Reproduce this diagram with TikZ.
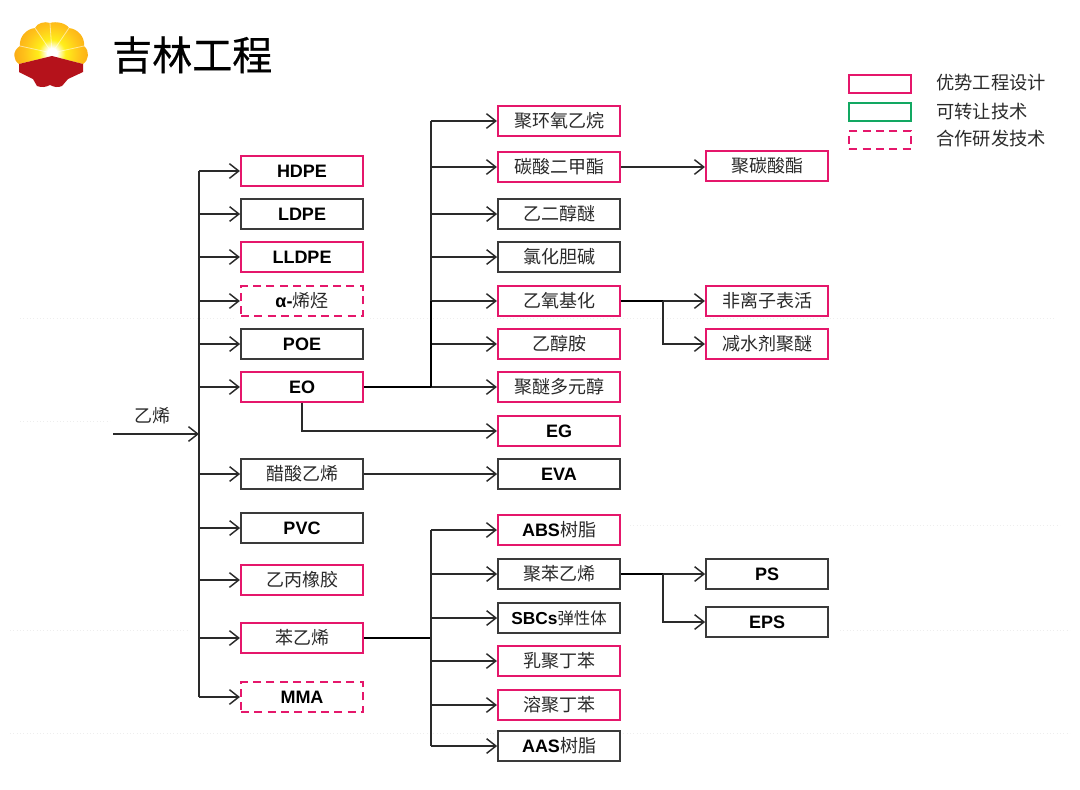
\documentclass[tikz,border=0pt]{standalone}
\usepackage{fontspec}
\setmainfont{Liberation Sans}
\newfontfamily\cjk{Noto Sans CJK SC}
\newfontfamily\cjkb[FakeBold=0.5]{Noto Sans CJK SC}
\usetikzlibrary{arrows.meta,calc}
\definecolor{pinkb}{HTML}{E5176B}
\definecolor{greenb}{HTML}{12A862}
\definecolor{inkc}{HTML}{2A2A2A}
\definecolor{boxc}{HTML}{3A3A3A}
\definecolor{faintc}{HTML}{EEEEEE}
\definecolor{logored}{HTML}{B5121B}
\definecolor{fana}{HTML}{FFEE1A}
\definecolor{fanb}{HTML}{FFC41A}
\definecolor{fanc}{HTML}{F8A014}
\definecolor{fand}{HTML}{EF8A10}
\pgfdeclareradialshading{logofan}{\pgfpoint{0bp}{0bp}}{%
  color(0bp)=(white);
  color(3bp)=(white);
  color(8bp)=(fana);
  color(16bp)=(fanb);
  color(26bp)=(fanc);
  color(40bp)=(fand);
  color(50bp)=(fand)}
\newcommand{\zh}[1]{{\cjk\mdseries\color{inkc} #1}}
\tikzset{
  box/.style={draw=boxc,line width=1.3pt,fill=white,minimum width=91.5pt,minimum height=22pt,inner sep=0pt,font=\bfseries\fontsize{13.5}{15}\selectfont,text=black},
  pinkbox/.style={box,draw=pinkb,line width=1.6pt},
  dashbox/.style={box,draw=pinkb,line width=1.6pt,dash pattern=on 6pt off 4pt},
  legpink/.style={draw=pinkb,line width=1.6pt,minimum width=46pt,minimum height=14pt,inner sep=0pt},
  leggreen/.style={draw=greenb,line width=1.6pt,minimum width=46pt,minimum height=14pt,inner sep=0pt},
  legdash/.style={draw=pinkb,line width=1.6pt,dash pattern=on 6pt off 4pt,minimum width=46pt,minimum height=14pt,inner sep=0pt},
  legtext/.style={anchor=west,inner sep=0pt,font=\cjk\fontsize{13.7}{15}\selectfont,text=inkc},
  plainline/.style={draw=inkc,line width=1.1pt},
  arr/.style={plainline,-{Straight Barb[length=7pt,width=11pt]}},
  heavy/.style={draw=black,line width=1.7pt},
  midline/.style={draw=black,line width=1.4pt},
  faintline/.style={draw=faintc,line width=0.5pt,dotted}
}
\begin{document}
\begin{tikzpicture}[x=0.75pt,y=-0.75pt]
\useasboundingbox (0,0) rectangle (1080,789);
% faint background lines
\foreach \yy/\xa/\xb in {318/20/235,318/370/1055,421/20/110,525/630/1060,630/10/190,630/840/1070,733/10/1070}
  \draw[faintline] (\xa,\yy) -- (\xb,\yy);
% logo
\begin{scope}
\path[clip] (52,56) -- (19,64) .. controls (13,60) and (12,51) .. (20,46)
  .. controls (19,37) and (26,29) .. (35,28)
  .. controls (37,23) and (45,21) .. (50,23)
  .. controls (56,21) and (66,23) .. (69,28)
  .. controls (78,29) and (85,37) .. (84,46)
  .. controls (90,51) and (89,60) .. (83,64) -- cycle;
\path[shading=logofan] (52,53) circle (42);
\foreach \ex/\ey in {20/46,35/28,50/23,69/28,84/46}
  \draw[white,line width=0.6pt,opacity=0.55] (52,53) -- (\ex,\ey);
\end{scope}
\fill[logored] (52,56) -- (19,64) -- (19,72) -- (33,79) -- (37,86) .. controls (42,88) and (46,87) .. (50,85)
  .. controls (54,87) and (58,88) .. (62,86) -- (68,79) -- (83,72) -- (83,64) -- cycle;
% title
\node[anchor=west,inner sep=0pt,font=\cjkb\fontsize{30}{34}\selectfont,text=black] (title) at (112,55) {吉林工程};
% legend
\node[legpink] (lg1) at (880,84) {};
\node[leggreen] (lg2) at (880,112) {};
\node[legdash] (lg3) at (880,140) {};
\node[legtext] (lt1) at (936,83) {优势工程设计};
\node[legtext] (lt2) at (936,112) {可转让技术};
\node[legtext] (lt3) at (936,139) {合作研发技术};
% column 1
\node[pinkbox] (hdpe) at (302,171) {HDPE};
\node[box] (ldpe) at (302,214) {LDPE};
\node[pinkbox] (lldpe) at (302,257) {LLDPE};
\node[dashbox] (alpha) at (302,301) {α-\zh{烯烃}};
\node[box] (poe) at (302,344) {POE};
\node[pinkbox] (eo) at (302,387) {EO};
\node[box] (vac) at (302,474) {\zh{醋酸乙烯}};
\node[box] (pvc) at (302,528) {PVC};
\node[pinkbox] (epr) at (302,580) {\zh{乙丙橡胶}};
\node[pinkbox] (sty) at (302,638) {\zh{苯乙烯}};
\node[dashbox] (mma) at (302,697) {MMA};
% column 2
\node[pinkbox] (peo) at (559,121) {\zh{聚环氧乙烷}};
\node[pinkbox] (dmc) at (559,167) {\zh{碳酸二甲酯}};
\node[box] (ege) at (559,214) {\zh{乙二醇醚}};
\node[box] (cho) at (559,257) {\zh{氯化胆碱}};
\node[pinkbox] (eox) at (559,301) {\zh{乙氧基化}};
\node[pinkbox] (eta) at (559,344) {\zh{乙醇胺}};
\node[pinkbox] (ppo) at (559,387) {\zh{聚醚多元醇}};
\node[pinkbox] (eg) at (559,431) {EG};
\node[box] (eva) at (559,474) {EVA};
\node[pinkbox] (abs) at (559,530) {ABS\zh{树脂}};
\node[box] (pst) at (559,574) {\zh{聚苯乙烯}};
\node[box] (sbc) at (559,618) {{\fontsize{13}{15}\selectfont SBCs}{\fontsize{12.3}{15}\selectfont\zh{弹性体}}};
\node[pinkbox] (esb) at (559,661) {\zh{乳聚丁苯}};
\node[pinkbox] (ssb) at (559,705) {\zh{溶聚丁苯}};
\node[box] (aas) at (559,746) {AAS\zh{树脂}};
% column 3
\node[pinkbox] (pc) at (767,166) {\zh{聚碳酸酯}};
\node[pinkbox] (nio) at (767,301) {\zh{非离子表活}};
\node[pinkbox] (pce) at (767,344) {\zh{减水剂聚醚}};
\node[box] (ps) at (767,574) {PS};
\node[box] (eps) at (767,622) {EPS};
% trunk
\node[anchor=south,inner sep=0pt,font=\cjk\fontsize{13.5}{15}\selectfont,text=inkc] (ethy) at (152,424) {乙烯};
\coordinate (src) at (113,434);
\coordinate (trunk) at (199,434);
\draw[plainline] (trunk |- hdpe.west) -- (trunk |- mma.west);
\draw[arr] (src) -- (trunk);
\foreach \n in {hdpe,ldpe,lldpe,alpha,poe,eo,vac,pvc,epr,sty,mma}
  \draw[arr] (trunk |- \n.west) -- (\n.west);
% EO bus
\coordinate (busa) at (431,387);
\foreach \n in {peo,dmc,ege,cho,eox,eta,ppo}
  \draw[arr] (busa |- \n.west) -- (\n.west);
\draw[heavy] (eo.east) -- (busa);
\draw[heavy] (busa) -- (busa |- eox.west);
\draw[plainline] (busa |- eox.west) -- (busa |- peo.west);
\draw[arr] (eo.south) |- (eg.west);
\draw[arr] (vac.east) -- (eva.west);
% styrene bus
\coordinate (busb) at (431,638);
\foreach \n in {abs,pst,sbc,esb,ssb,aas}
  \draw[arr] (busb |- \n.west) -- (\n.west);
\draw[midline] (sty.east) -- (busb);
\draw[plainline] (busb |- abs.west) -- (busb |- aas.west);
% right column
\draw[arr] (dmc.east) -- (dmc.east -| pc.west);
\coordinate (busc) at (663,301);
\draw[arr] (eox.east) -- (nio.west);
\draw[midline] (eox.east) -- (busc);
\draw[arr] (busc) |- (pce.west);
\coordinate (busd) at (663,574);
\draw[arr] (pst.east) -- (ps.west);
\draw[midline] (pst.east) -- (busd);
\draw[arr] (busd) |- (eps.west);
\end{tikzpicture}
\end{document}
